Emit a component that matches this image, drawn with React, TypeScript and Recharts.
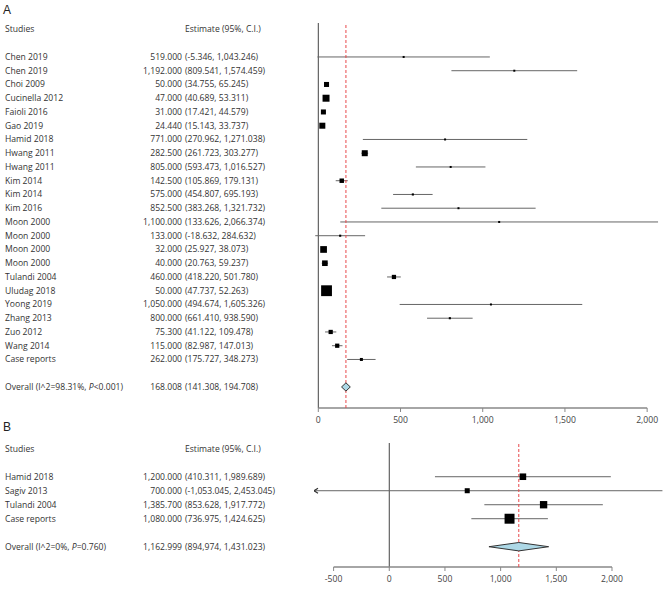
import React from "react";
import { ScatterChart, Scatter, XAxis, YAxis, ErrorBar, ReferenceLine } from "recharts";

// panel A: single-arm studies
const studiesA = [
  "Chen 2019", "Chen 2019", "Choi 2009", "Cucinella 2012", "Faioli 2016", "Gao 2019",
  "Hamid 2018", "Hwang 2011", "Hwang 2011", "Kim 2014", "Kim 2014", "Kim 2016",
  "Moon 2000", "Moon 2000", "Moon 2000", "Moon 2000", "Tulandi 2004", "Uludag 2018",
  "Yoong 2019", "Zhang 2013", "Zuo 2012", "Wang 2014", "Case reports",
];
const estA = [519, 1192, 50, 47, 31, 24.44, 771, 282.5, 805, 142.5, 575, 852.5, 1100, 133, 32, 40, 460, 50, 1050, 800, 75.3, 115, 262];
const loA = [-5.346, 809.541, 34.755, 40.689, 17.421, 15.143, 270.962, 261.723, 593.473, 105.869, 454.807, 383.268, 133.626, -18.632, 25.927, 20.763, 418.22, 47.737, 494.674, 661.41, 41.122, 82.987, 175.727];
const hiA = [1043.246, 1574.459, 65.245, 53.311, 44.579, 33.737, 1271.038, 303.277, 1016.527, 179.131, 695.193, 1321.732, 2066.374, 284.632, 38.073, 59.237, 501.78, 52.263, 1605.326, 938.59, 109.478, 147.013, 348.273];
// relative study weights (box area)
const weightA = [0.4, 0.4, 2.8, 5.4, 2.8, 4, 0.4, 4, 0.4, 2.2, 0.5, 0.4, 0.3, 0.5, 5, 3.5, 2, 13, 0.4, 0.5, 2, 2, 1];
const overallA = { est: 168.008, lo: 141.308, hi: 194.708 };
const ticksA = [0, 500, 1000, 1500, 2000];

// panel B: comparative studies
const studiesB = ["Hamid 2018", "Sagiv 2013", "Tulandi 2004", "Case reports"];
const estB = [1200, 700, 1385.7, 1080];
const loB = [410.311, -1053.045, 853.628, 736.975];
const hiB = [1989.689, 2453.045, 1917.772, 1424.625];
const weightB = [4.8, 2.8, 6, 11];
const overallB = { est: 1162.999, lo: 894.974, hi: 1431.023 };
const overallCiB = "(894,974, 1,431.023)";
const ticksB = [-500, 0, 500, 1000, 1500, 2000];

const FONT = "'Open Sans', 'Noto Sans', sans-serif";
const TEXT = "#333";
const FS = 8.6;
const fmt = (v: number) => v.toLocaleString("en-US", { minimumFractionDigits: 3, maximumFractionDigits: 3 });
const fmtTick = (v: number) => v.toLocaleString("en-US");

type Label = { name: React.ReactNode; est: string; ci: string };
type Row = { x: number; y: number; lo: number; hi: number; w: number };

function buildRows(est: number[], lo: number[], hi: number[], w: number[]): Row[] {
  return est.map((e, i) => ({ x: e, y: i, lo: lo[i], hi: hi[i], w: w[i] }));
}

function diamond(o: { est: number; lo: number; hi: number }, row: number) {
  return [
    { x: o.lo, y: row },
    { x: o.est, y: row - 0.3 },
    { x: o.hi, y: row },
    { x: o.est, y: row + 0.3 },
    { x: o.lo, y: row },
  ];
}

const Box = (props: any) => {
  const { cx, cy, payload } = props;
  const s = Math.max(2, 3 * Math.sqrt(payload.w));
  return <rect x={cx - s / 2} y={cy - s / 2} width={s} height={s} fill="#000" />;
};

const Arrow = (props: any) => {
  const { cx, cy } = props;
  return <path d={`M${cx + 4},${cy - 2.5} L${cx},${cy} L${cx + 4},${cy + 2.5}`} stroke="#333" strokeWidth={1.2} fill="none" />;
};

const Empty = () => <g />;

function makeYTick(labels: Record<number, Label>) {
  return (props: any) => {
    const { y, payload } = props;
    const l = labels[payload.value];
    if (!l) return <g />;
    return (
      <g fontFamily={FONT} fontSize={FS} fill={TEXT}>
        <text x={5} y={y} dy="0.35em">{l.name}</text>
        <text x={182} y={y} dy="0.35em" textAnchor="end">{l.est}</text>
        <text x={185} y={y} dy="0.35em">{l.ci}</text>
      </g>
    );
  };
}

const XTick = (props: any) => {
  const { x, y, payload } = props;
  return (
    <g>
      <line x1={x} x2={x} y1={y} y2={y + 4} stroke="#888" />
      <text x={x} y={y + 15} textAnchor="middle" fontFamily={FONT} fontSize={FS} fill="#444">
        {fmtTick(payload.value)}
      </text>
    </g>
  );
};

type PanelProps = {
  rows: Row[];
  labels: Record<number, Label>;
  overall: { est: number; lo: number; hi: number };
  overallRow: number;
  xDomain: [number, number];
  yDomain: [number, number];
  xTicks: number[];
  height: number;
  marginTop: number;
  marginRight: number;
  yWidth: number;
};

function Panel(p: PanelProps) {
  const [dMin, dMax] = p.xDomain;
  // CI whiskers are cut at the plot edges, a truncated end gets an arrow
  const points = p.rows.map((r) => ({
    ...r,
    err: [r.x - Math.max(r.lo, dMin), Math.min(r.hi, dMax) - r.x],
  }));
  const truncated = p.rows.filter((r) => r.lo < dMin).map((r) => ({ x: dMin, y: r.y }));
  const yTicks = Object.keys(p.labels).map(Number);
  const axisEnd = p.xTicks[p.xTicks.length - 1];
  return (
    <ScatterChart width={666} height={p.height} margin={{ top: p.marginTop, right: p.marginRight, left: 0, bottom: 0 }}>
      <XAxis
        type="number"
        dataKey="x"
        domain={p.xDomain}
        allowDataOverflow
        ticks={p.xTicks}
        interval={0}
        height={24}
        axisLine={false}
        tickLine={false}
        tickSize={0}
        tickMargin={0}
        tick={<XTick />}
      />
      <YAxis
        type="number"
        dataKey="y"
        domain={p.yDomain}
        reversed
        allowDataOverflow
        ticks={yTicks}
        interval={0}
        width={p.yWidth}
        axisLine={false}
        tickLine={false}
        tick={makeYTick(p.labels)}
      />
      <ReferenceLine x={0} stroke="#444" />
      <ReferenceLine
        segment={[
          { x: p.xTicks[0], y: p.yDomain[1] },
          { x: axisEnd, y: p.yDomain[1] },
        ]}
        stroke="#888"
        strokeWidth={1.5}
      />
      <Scatter data={points} shape={<Box />} isAnimationActive={false}>
        <ErrorBar dataKey="err" direction="x" width={0} stroke="#666" strokeWidth={1} />
      </Scatter>
      <Scatter data={truncated} shape={<Arrow />} isAnimationActive={false} />
      <Scatter
        data={diamond(p.overall, p.overallRow)}
        shape={<Empty />}
        line={{ stroke: "#333", strokeWidth: 1, fill: "#add8e6" }}
        lineType="joint"
        isAnimationActive={false}
      />
      <ReferenceLine x={p.overall.est} stroke="#e8474b" strokeDasharray="3 2" />
    </ScatterChart>
  );
}

function labelsFor(names: string[], est: number[], lo: number[], hi: number[]) {
  const out: Record<number, Label> = {
    [-2]: { name: "Studies", est: "", ci: "Estimate (95%, C.I.)" },
  };
  names.forEach((n, i) => {
    out[i] = { name: n, est: fmt(est[i]), ci: `(${fmt(lo[i])}, ${fmt(hi[i])})` };
  });
  return out;
}

const labelsA = labelsFor(studiesA, estA, loA, hiA);
labelsA[24] = {
  name: (
    <>
      Overall (I^2=98.31%, <tspan fontStyle="italic">P</tspan>&lt;0.001)
    </>
  ),
  est: fmt(overallA.est),
  ci: `(${fmt(overallA.lo)}, ${fmt(overallA.hi)})`,
};

const labelsB = labelsFor(studiesB, estB, loB, hiB);
labelsB[5] = {
  name: (
    <>
      Overall (I^2=0%, <tspan fontStyle="italic">P</tspan>=0.760)
    </>
  ),
  est: fmt(overallB.est),
  ci: overallCiB,
};

export default function App() {
  return (
    <div style={{ position: "absolute", left: 0, top: 0, width: 666, height: 591, background: "#fff", overflow: "hidden" }}>
      <svg width={666} height={591} style={{ position: "absolute", left: 0, top: 0 }}>
        <text x={3} y={13.5} fontFamily="'Liberation Sans', Arial, sans-serif" fontSize={12} fill="#222">A</text>
        <text x={3} y={431} fontFamily="'Liberation Sans', Arial, sans-serif" fontSize={12} fill="#222">B</text>
      </svg>
      <div style={{ position: "absolute", left: 0, top: 0 }}>
        <Panel
          rows={buildRows(estA, loA, hiA, weightA)}
          labels={labelsA}
          overall={overallA}
          overallRow={24}
          xDomain={[-25, 2080]}
          yDomain={[-2.47, 25.53]}
          xTicks={ticksA}
          height={432}
          marginTop={23}
          marginRight={5.7}
          yWidth={314.2}
        />
      </div>
      <div style={{ position: "absolute", left: 0, top: 400 }}>
        <Panel
          rows={buildRows(estB, loB, hiB, weightB)}
          labels={labelsB}
          overall={overallB}
          overallRow={5}
          xDomain={[-676, 2485]}
          yDomain={[-2.41, 6.45]}
          xTicks={ticksB}
          height={191}
          marginTop={43}
          marginRight={0}
          yWidth={314}
        />
      </div>
    </div>
  );
}
